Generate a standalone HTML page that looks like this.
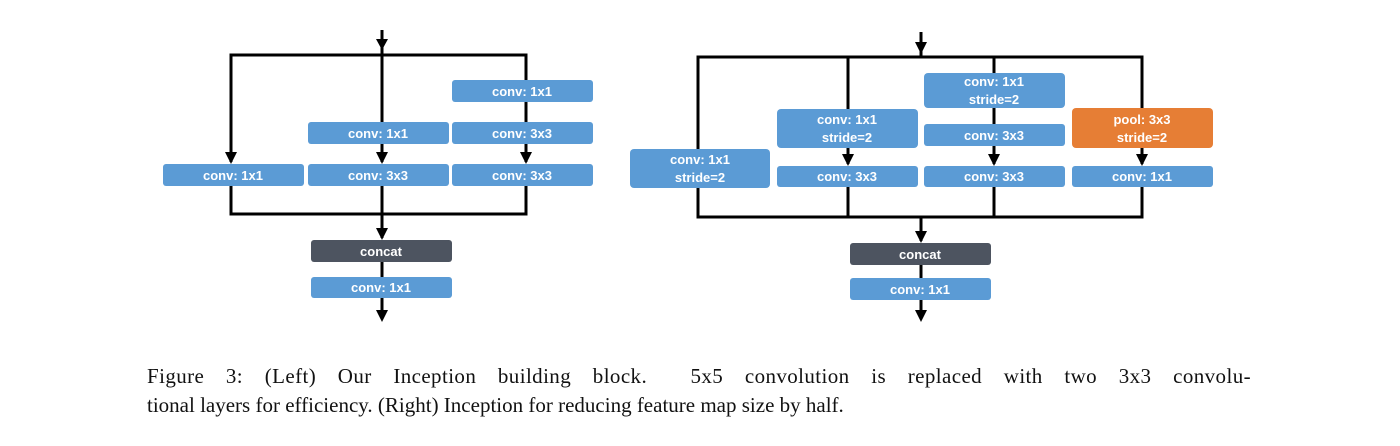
<!DOCTYPE html>
<html><head><meta charset="utf-8"><style>
body{margin:0;width:1400px;height:446px;background:#fff;overflow:hidden;position:relative}
.cap{position:absolute;left:147px;width:1104px;font:21px/29px "Liberation Serif",serif;color:#111;white-space:nowrap}
.l1{top:362px;text-align:justify;text-align-last:justify;letter-spacing:0.4px}
.l2{top:391px}
</style></head><body>
<svg width="1400" height="446" style="position:absolute;left:0;top:0">
<g stroke="#000" stroke-width="3" fill="none">
<line x1="382" y1="30" x2="382" y2="55"/>
<polyline points="231,162 231,55 526,55 526,162"/>
<line x1="382" y1="55" x2="382" y2="162"/>
<polyline points="231,186 231,214 526,214 526,186"/>
<line x1="382" y1="186" x2="382" y2="238"/>
<line x1="382" y1="262" x2="382" y2="318"/>
<line x1="921" y1="32" x2="921" y2="57"/>
<polyline points="698,150 698,57 1142,57 1142,164"/>
<line x1="848" y1="57" x2="848" y2="164"/>
<line x1="994" y1="57" x2="994" y2="164"/>
<polyline points="698,188 698,217 1142,217 1142,187"/>
<line x1="848" y1="187" x2="848" y2="217"/>
<line x1="994" y1="187" x2="994" y2="217"/>
<line x1="921" y1="217" x2="921" y2="241"/>
<line x1="921" y1="265" x2="921" y2="318"/>
</g>
<g fill="#000">
<path d="M376,39 L388,39 L382,50Z"/>
<path d="M225,152 L237,152 L231,164Z"/>
<path d="M376,152 L388,152 L382,164Z"/>
<path d="M520,152 L532,152 L526,164Z"/>
<path d="M376,228 L388,228 L382,240Z"/>
<path d="M376,310 L388,310 L382,322Z"/>
<path d="M915,42 L927,42 L921,54Z"/>
<path d="M842,154 L854,154 L848,166Z"/>
<path d="M988,154 L1000,154 L994,166Z"/>
<path d="M1136,154 L1148,154 L1142,166Z"/>
<path d="M915,231 L927,231 L921,243Z"/>
<path d="M915,310 L927,310 L921,322Z"/>
</g>
<g font-family="Liberation Sans, sans-serif" font-weight="bold" font-size="13" fill="#fff" text-anchor="middle">
<rect x="452" y="80" width="141" height="22" rx="3" fill="#5B9BD5"/><text x="522" y="96">conv: 1x1</text>
<rect x="308" y="122" width="141" height="22" rx="3" fill="#5B9BD5"/><text x="378" y="138">conv: 1x1</text>
<rect x="452" y="122" width="141" height="22" rx="3" fill="#5B9BD5"/><text x="522" y="138">conv: 3x3</text>
<rect x="163" y="164" width="141" height="22" rx="3" fill="#5B9BD5"/><text x="233" y="180">conv: 1x1</text>
<rect x="308" y="164" width="141" height="22" rx="3" fill="#5B9BD5"/><text x="378" y="180">conv: 3x3</text>
<rect x="452" y="164" width="141" height="22" rx="3" fill="#5B9BD5"/><text x="522" y="180">conv: 3x3</text>
<rect x="311" y="240" width="141" height="22" rx="3" fill="#4D5460"/><text x="381" y="256">concat</text>
<rect x="311" y="277" width="141" height="21" rx="3" fill="#5B9BD5"/><text x="381" y="292">conv: 1x1</text>

<rect x="630" y="149" width="140" height="39" rx="4" fill="#5B9BD5"/><text x="700" y="164">conv: 1x1</text><text x="700" y="182">stride=2</text>
<rect x="777" y="109" width="141" height="39" rx="4" fill="#5B9BD5"/><text x="847" y="124">conv: 1x1</text><text x="847" y="142">stride=2</text>
<rect x="924" y="73" width="141" height="35" rx="4" fill="#5B9BD5"/><text x="994" y="86">conv: 1x1</text><text x="994" y="104">stride=2</text>
<rect x="924" y="124" width="141" height="22" rx="3" fill="#5B9BD5"/><text x="994" y="140">conv: 3x3</text>
<rect x="1072" y="108" width="141" height="40" rx="4" fill="#E67E35"/><text x="1142" y="124">pool: 3x3</text><text x="1142" y="142">stride=2</text>
<rect x="777" y="166" width="141" height="21" rx="3" fill="#5B9BD5"/><text x="847" y="181">conv: 3x3</text>
<rect x="924" y="166" width="141" height="21" rx="3" fill="#5B9BD5"/><text x="994" y="181">conv: 3x3</text>
<rect x="1072" y="166" width="141" height="21" rx="3" fill="#5B9BD5"/><text x="1142" y="181">conv: 1x1</text>
<rect x="850" y="243" width="141" height="22" rx="3" fill="#4D5460"/><text x="920" y="259">concat</text>
<rect x="850" y="278" width="141" height="22" rx="3" fill="#5B9BD5"/><text x="920" y="294">conv: 1x1</text>
</g>
</svg>
<div class="cap l1">Figure 3: (Left) Our Inception building block. &nbsp;5x5 convolution is replaced with two 3x3 convolu-</div>
<div class="cap l2">tional layers for efficiency. (Right) Inception for reducing feature map size by half.</div>
</body></html>
